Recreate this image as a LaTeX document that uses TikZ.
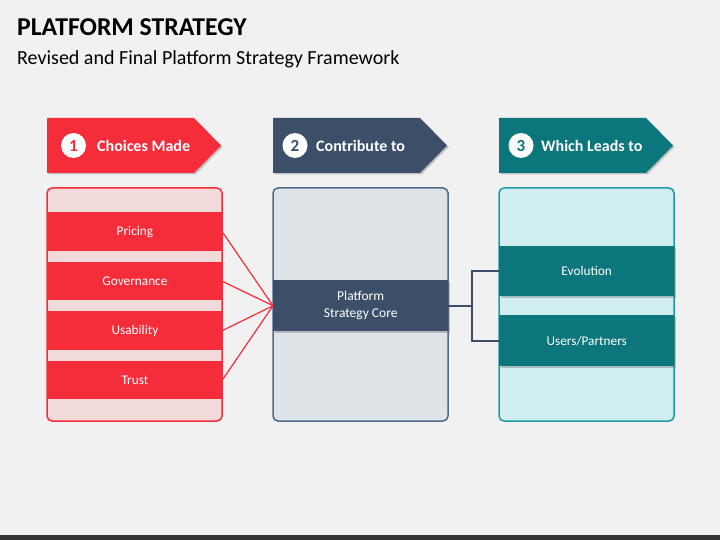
\documentclass[tikz,border=0pt]{standalone}
\usepackage{fontspec}
\setmainfont{Carlito}
\usetikzlibrary{shadows,calc}
\definecolor{bg}{HTML}{F1F1F1}
\definecolor{cred}{HTML}{F52D3A}
\definecolor{cnavy}{HTML}{3B4F69}
\definecolor{cteal}{HTML}{0B767C}
\definecolor{lred}{HTML}{F2DADB}
\definecolor{lnavy}{HTML}{DEE3E8}
\definecolor{bnavy}{HTML}{4D6A8C}
\definecolor{lteal}{HTML}{D0EEF0}
\definecolor{bteal}{HTML}{1D9CA6}
\definecolor{strip}{HTML}{333333}
\tikzset{
  shd/.style={drop shadow={shadow xshift=1.5pt,shadow yshift=-1.5pt,opacity=0.35,fill=black!60}},
  panel/.style={rounded corners=5pt,line width=1.5pt},
  bar/.style={minimum width=174pt,anchor=north west,inner sep=0pt,text=white,font=\fontsize{13.3}{15}\selectfont},
  numc/.style={circle,fill=white,minimum size=25pt,inner sep=0pt,font=\bfseries\fontsize{17}{17}\selectfont},
  btxt/.style={anchor=west,text=white,font=\bfseries\fontsize{16}{16}\selectfont,inner sep=0pt},
  lnk/.style={line width=1.2pt},
}
\begin{document}
\begin{tikzpicture}[x=1pt,y=-1pt]
\fill[bg] (0,0) rectangle (720,540);
\useasboundingbox (0,0) rectangle (720,540);
\fill[strip] (0,535) rectangle (720,540);
\node[anchor=base west,inner sep=0pt,font=\bfseries\fontsize{25.7}{26}\selectfont] (title) at (17,36) {PLATFORM STRATEGY};
\node[anchor=base west,inner sep=0pt,font=\fontsize{20}{20}\selectfont] (sub) at (17,65) {Revised and Final Platform Strategy Framework};
% banners
\foreach \x/\c/\n/\t/\nm/\cx/\tx in {47/cred/1/Choices Made/b1/26.5/50,273/cnavy/2/Contribute to/b2/22/43,499/cteal/3/Which Leads to/b3/22/42}{
  \fill[\c,shd] (\x,118) -- (\x+147,118) -- (\x+174,145.5) -- (\x+147,173) -- (\x,173) -- cycle;
  \node[numc,text=\c] (\nm n) at (\x+\cx,145.5) {\n};
  \node[btxt] (\nm t) at (\x+\tx,145.5) {\t};
}
% panels
\draw[panel,draw=cred,fill=lred] (47,188) rectangle (222,421);
\draw[panel,draw=bnavy,fill=lnavy] (273,188) rectangle (448,421);
\draw[panel,draw=bteal,fill=lteal] (499,188) rectangle (674,421);
% red bars
\node[bar,fill=cred,minimum height=39pt] (p1) at (47.75,212) {Pricing};
\node[bar,fill=cred,minimum height=38pt] (p2) at (47.75,262) {Governance};
\node[bar,fill=cred,minimum height=39pt] (p3) at (47.75,311) {Usability};
\node[bar,fill=cred,minimum height=38pt] (p4) at (47.75,361) {Trust};
% core
\node[bar,fill=cnavy,minimum height=51pt,minimum width=175pt,shd,align=center,font=\fontsize{13.5}{17}\selectfont] (core) at (273,280) {Platform\\Strategy Core};
% teal bars
\node[bar,fill=cteal,minimum height=50pt,minimum width=175pt,shd] (e1) at (499,246) {Evolution};
\node[bar,fill=cteal,minimum height=51pt,minimum width=175pt,shd] (e2) at (499,315) {Users/Partners};
% links
\foreach \p in {p1,p2,p3,p4}{\draw[cred,lnk] (\p.east) -- (core.west);}
\coordinate (j) at (472,0);
\draw[cnavy,line width=1.8pt] (core.east) -- (core.east -| j);
\draw[cnavy,line width=1.8pt] (e1.west) -- (e1.west -| j) -- (e2.west -| j) -- (e2.west);
\end{tikzpicture}
\end{document}
